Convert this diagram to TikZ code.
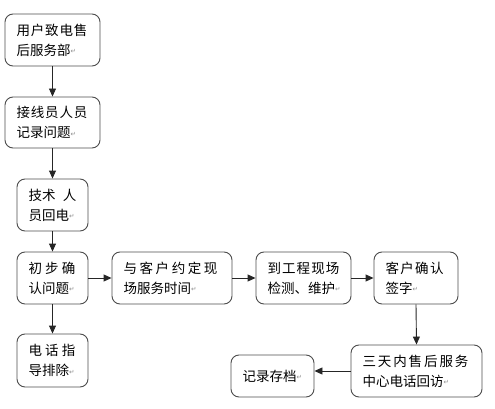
\documentclass[tikz,border=0pt]{standalone}
\usepackage{fontspec}
\newfontfamily\cjk{Noto Sans CJK SC}
\newfontfamily\symf{DejaVu Sans}
\usetikzlibrary{arrows.meta}
\newcommand{\retmark}{\raisebox{1.5pt}{\symf\fontsize{6.5}{6.5}\selectfont\color{black!45}↵}}
\newcommand{\spreadline}[2]{\makebox[#1][l]{#2}}
\begin{document}
\begin{tikzpicture}[x=1pt,y=-1pt,
  box/.style={draw=black!70, line width=0.9pt, rounded corners=8pt, inner xsep=11.5pt, inner ysep=0pt, align=left, font=\cjk\fontsize{13.5}{20}\selectfont},
  arr/.style={draw=black!85, line width=0.9pt, -{Triangle[length=8pt,width=7pt]}}]
\useasboundingbox (0,0) rectangle (495,409);
\node[box, text width=72pt, minimum height=52pt] (b1) at (52.5,40) {\spreadline{71pt}{用\hfill 户\hfill 致\hfill 电\hfill 售}\\后服务部\retmark};
\node[box, text width=72pt, minimum height=51pt] (b2) at (52.5,122.5) {\spreadline{71pt}{接\hfill 线\hfill 员\hfill 人\hfill 员}\\记录问题\retmark};
\node[box, text width=48pt, minimum height=52pt] (b3) at (52.5,205) {\spreadline{48pt}{技术\hfill 人}\\员回电\retmark};
\node[box, text width=48pt, minimum height=52pt] (b4) at (52.5,278) {\spreadline{47pt}{初\hfill 步\hfill 确}\\认问题\retmark};
\node[box, text width=48pt, minimum height=53pt] (b5) at (52.5,360.5) {\spreadline{47pt}{电\hfill 话\hfill 指}\\导排除\retmark};
\node[box, text width=97pt, minimum height=52pt] (b6) at (172,278) {\spreadline{94pt}{与\hfill 客\hfill 户\hfill 约\hfill 定\hfill 现}\\场服务时间\retmark};
\node[box, text width=72pt, minimum height=52pt] (b7) at (303.5,278) {\spreadline{72pt}{到\hfill 工\hfill 程\hfill 现\hfill 场}\\检测、维护\retmark};
\node[box, text width=61pt, minimum height=52pt] (b8) at (416,278) {\spreadline{58pt}{客\hfill 户\hfill 确\hfill 认}\\签字\retmark};
\node[box, text width=108pt, minimum height=52pt] (b9) at (416.5,371) {\spreadline{106pt}{三\hfill 天\hfill 内\hfill 售\hfill 后\hfill 服\hfill 务}\\中心电话回访\retmark};
\node[box, text width=60pt, minimum height=42pt] (b10) at (272.5,376) {记录存档\retmark};
\draw[arr] (b1.south) -- (b2.north);
\draw[arr] (b2.south) -- (b3.north);
\draw[arr] (b3.south) -- (b4.north);
\draw[arr] (b4.south) -- (b5.north);
\draw[arr] (b4.east) -- (b6.west);
\draw[arr] (b6.east) -- (b7.west);
\draw[arr] (b7.east) -- (b8.west);
\draw[arr] (b8.south) -- (b9.north);
\draw[arr] (b9.west) -- (b9.west -| b10.east);
\end{tikzpicture}
\end{document}
